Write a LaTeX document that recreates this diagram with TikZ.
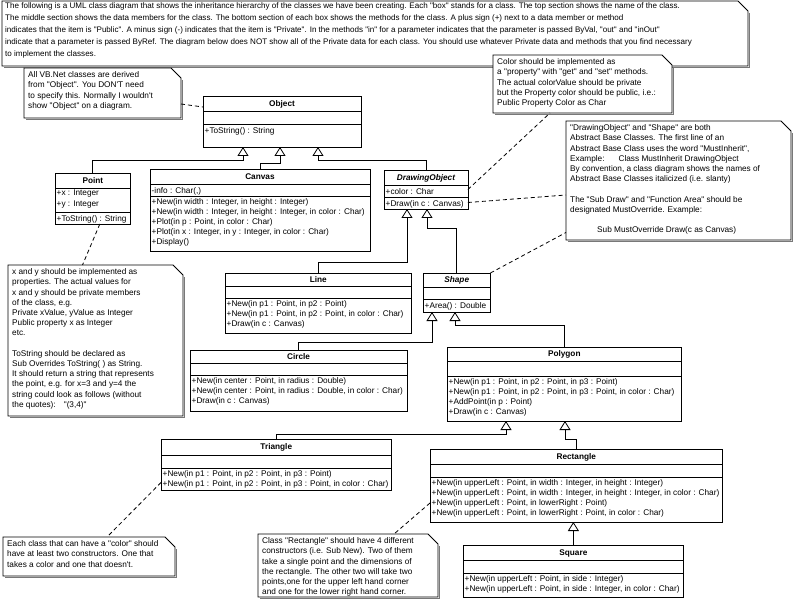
\documentclass[tikz,border=0pt]{standalone}
\usepackage{fontspec}
\newfontfamily\arialf{Liberation Sans}
\usetikzlibrary{arrows.meta}
\definecolor{shadowc}{RGB}{120,120,120}
\def\umlgeom#1,#2,#3,#4,#5,#6,#7\relax{\def\ux{#1}\def\uy{#2}\def\uw{#3}\def\uht{#4}\def\uha{#5}\def\uhm{#6}\def\upad{#7}}
\newcommand{\umlclass}[5]{%
  \umlgeom#2\relax
  \pgfmathsetmacro\uyA{\uy+\uht}%
  \pgfmathsetmacro\uyB{\uyA+\uha}%
  \pgfmathsetmacro\uyC{\uyB+\uhm}%
  \pgfmathsetmacro\uyM{\uy+\uht/2}%
  \pgfmathsetmacro\uH{\uyC-\uy}%
  \node[ctext] (#1-attr) at (\ux+1.5,\uyA+2) {#4};
  \node[ctext] (#1-meth) at (\ux+1.5,\uyB+2) {#5};
  \path (#1-attr.east); \pgfgetlastxy{\tax}{\tay}%
  \path (#1-meth.east); \pgfgetlastxy{\tmx}{\tmy}%
  \pgfmathsetmacro\uwF{max(\uw,\tax-\ux+\upad,\tmx-\ux+\upad)}%
  \pgfmathsetmacro\uxR{\ux+\uwF}%
  \pgfmathsetmacro\uxM{\ux+\uwF/2}%
  \node[classbox, minimum width=\uwF pt, minimum height=\uH pt, anchor=north west] (#1) at (\ux,\uy) {};
  \draw[sepline] (\ux,\uyA) -- (\uxR,\uyA) (\ux,\uyB) -- (\uxR,\uyB);
  \node[ctitle] (#1-title) at (\uxM,\uyM) {#3};
}
\newcommand{\umlnote}[6]{%
  \pgfmathsetmacro\nxR{#2+#4}\pgfmathsetmacro\nyB{#3+#5}%
  \pgfmathsetmacro\nxE{#2+#4-10}\pgfmathsetmacro\nyE{#3+10}%
  \draw[noteshadow] (\nxR+1.5,\nyE+2) -- (\nxR+1.5,\nyB+1.5) -- (#2+2,\nyB+1.5);
  \node[notebox, minimum width=#4pt, minimum height=#5pt, anchor=north west] (#1) at (#2,#3) {};
  \draw[noteline] (#2,#3) -- (\nxE,#3) -- (\nxR,\nyE) -- (\nxR,\nyB) -- (#2,\nyB) -- cycle;
  \node[ntext] (#1-text) at (#2+4,#3+3.5) {#6};
}
\begin{document}
\begin{tikzpicture}[x=1pt,y=-1pt,
  every node/.style={font=\arialf\fontsize{8.25}{10.2}\selectfont},
  classbox/.style={draw, line width=0.8pt, inner sep=0pt, outer sep=0pt, rectangle},
  sepline/.style={line width=0.8pt},
  ctitle/.style={inner sep=0pt, text height=5.9pt, text depth=0pt, font=\arialf\bfseries\fontsize{8.25}{10.2}\selectfont},
  ctext/.style={inner sep=0pt, align=left, anchor=north west, execute at begin node=\strut},
  notebox/.style={inner sep=0pt, outer sep=0pt, rectangle},
  noteline/.style={line width=0.8pt, fill=white},
  noteshadow/.style={line width=1.5pt, shadowc},
  ntext/.style={inner sep=0pt, align=left, anchor=north west, execute at begin node=\strut},
  gen/.style={line width=0.8pt, -{Triangle[open, length=9pt, width=11pt, line width=0.8pt]}},
  ndash/.style={line width=0.8pt, dash pattern=on 4pt off 3pt},
]
\useasboundingbox (0,0) rectangle (794,601);
\fill[white] (0,0) rectangle (794,601);

% header note
\draw[noteshadow] (749.5,13) -- (749.5,67.5) -- (4,67.5);
\node[notebox, minimum width=746pt, minimum height=65pt, anchor=north west] (header) at (2,1) {};
\draw[noteline] (2,1) -- (738,1) -- (748,11) -- (748,66) -- (2,66) -- cycle;
\node[ntext, font=\arialf\fontsize{8.05}{12}\selectfont] (header-text) at (5,2.6) {The following is a UML class diagram that shows the inheritance hierarchy of the classes we have been creating. Each "box" stands for a class. The top section shows the name of the class.\\
The middle section shows the data members for the class. The bottom section of each box shows the methods for the class. A plus sign (+) next to a data member or method\\
indicates that the item is "Public". A minus sign (-) indicates that the item is "Private". In the methods "in" for a parameter indicates that the parameter is passed ByVal, "out" and "inOut"\\
indicate that a parameter is passed ByRef. The diagram below does NOT show all of the Private data for each class. You should use whatever Private data and methods that you find necessary\\
to implement the classes.};

% notes
\umlnote{vbnote}{24}{68}{157}{50}{All VB.Net classes are derived\\from "Object". You DON'T need\\to specify this. Normally I wouldn't\\show "Object" on a diagram.}
\umlnote{colornote}{493}{55}{179}{58}{Color should be implemented as\\a "property" with "get" and "set" methods.\\The actual colorValue should be private\\but the Property color should be public, i.e.:\\Public Property Color as Char}
\umlnote{absnote}{566}{121}{225}{119}{"DrawingObject" and "Shape" are both\\Abstract Base Classes. The first line of an\\Abstract Base Class uses the word "MustInherit",\\Example:\hspace{14pt}Class MustInherit DrawingObject\\By convention, a class diagram shows the names of\\Abstract Base Classes italicized (i.e. slanty)\\\mbox{}\\The "Sub Draw" and "Function Area" should be\\designated MustOverride. Example:\\\mbox{}\\\hspace*{27pt}Sub MustOverride Draw(c as Canvas)}
\umlnote{leftnote}{8}{265}{175}{151}{x and y should be implemented as\\properties. The actual values for\\x and y should be private members\\of the class, e.g.\\Private xValue, yValue as Integer\\Public property x as Integer\\etc.\\\mbox{}\\ToString should be declared as\\Sub Overrides ToString( ) as String.\\It should return a string that represents\\the point, e.g. for x=3 and y=4 the\\string could look as follows (without\\the quotes):\hspace{5pt} "(3,4)"}
\umlnote{bnote}{3}{537}{172}{39}{Each class that can have a "color" should\\have at least two constructors. One that\\takes a color and one that doesn't.}
\umlnote{rectnote}{258}{534}{180}{63}{Class "Rectangle" should have 4 different\\constructors (i.e. Sub New). Two of them\\take a single point and the dimensions of\\the rectangle. The other two will take two\\points,one for the upper left hand corner\\and one for the lower right hand corner.}

% classes
\umlclass{Object}{203,96,158,15,13,23,4}{Object}{}{+ToString() : String}
\umlclass{Point}{55,173,0,15,24,12,4}{Point}{+x : Integer\\+y : Integer}{+ToString() : String}
\umlclass{Canvas}{150,169,0,15,12,55,5}{Canvas}{-info : Char(,)}{+New(in width : Integer, in height : Integer)\\+New(in width : Integer, in height : Integer, in color : Char)\\+Plot(in p : Point, in color : Char)\\+Plot(in x : Integer, in y : Integer, in color : Char)\\+Display()}
\umlclass{DrawingObject}{384,170,0,15,12,12,4}{\itshape DrawingObject}{+color : Char}{+Draw(in c : Canvas)}
\umlclass{Line}{225,273,0,13,12,35,8}{Line}{}{+New(in p1 : Point, in p2 : Point)\\+New(in p1 : Point, in p2 : Point, in color : Char)\\+Draw(in c : Canvas)}
\umlclass{Shape}{423,273,0,14,12,13,4}{\itshape Shape}{}{+Area() : Double}
\umlclass{Circle}{190,350,0,13,12,36,4}{Circle}{}{+New(in center : Point, in radius : Double)\\+New(in center : Point, in radius : Double, in color : Char)\\+Draw(in c : Canvas)}
\umlclass{Polygon}{447,347,0,14,15,45,7}{Polygon}{}{+New(in p1 : Point, in p2 : Point, in p3 : Point)\\+New(in p1 : Point, in p2 : Point, in p3 : Point, in color : Char)\\+AddPoint(in p : Point)\\+Draw(in c : Canvas)}
\umlclass{Triangle}{161,439,0,16,13,22,3}{Triangle}{}{+New(in p1 : Point, in p2 : Point, in p3 : Point)\\+New(in p1 : Point, in p2 : Point, in p3 : Point, in color : Char)}
\umlclass{Rectangle}{430,449,0,15,13,45,3}{Rectangle}{}{+New(in upperLeft : Point, in width : Integer, in height : Integer)\\+New(in upperLeft : Point, in width : Integer, in height : Integer, in color : Char)\\+New(in upperLeft : Point, in lowerRight : Point)\\+New(in upperLeft : Point, in lowerRight : Point, in color : Char)}
\umlclass{Square}{463,545,0,15,13,24,4}{Square}{}{+New(in upperLeft : Point, in side : Integer)\\+New(in upperLeft : Point, in side : Integer, in color : Char)}

% generalizations
\draw[gen] (Point.north) |- ([xshift=40pt,yshift=-13pt]Object.south west) -- ([xshift=40pt]Object.south west);
\draw[gen] (Canvas.north) |- ([xshift=77pt,yshift=-16pt]Object.south west) -- ([xshift=77pt]Object.south west);
\draw[gen] (DrawingObject.north) |- ([xshift=115pt,yshift=-13pt]Object.south west) -- ([xshift=115pt]Object.south west);
\draw[gen] (Line.north) |- ([xshift=23pt,yshift=-53pt]DrawingObject.south west) -- ([xshift=23pt]DrawingObject.south west);
\draw[gen] (Shape.north) |- ([xshift=43pt,yshift=-19pt]DrawingObject.south west) -- ([xshift=43pt]DrawingObject.south west);
\draw[gen] (Circle.north) |- ([xshift=9pt,yshift=-30pt]Shape.south west) -- ([xshift=9pt]Shape.south west);
\draw[gen] (Polygon.north) |- ([xshift=32pt,yshift=-13pt]Shape.south west) -- ([xshift=32pt]Shape.south west);
\draw[gen] (Triangle.north) |- ([xshift=59pt,yshift=-13pt]Polygon.south west) -- ([xshift=59pt]Polygon.south west);
\draw[gen] (Rectangle.north) |- ([xshift=118pt,yshift=-18pt]Polygon.south west) -- ([xshift=118pt]Polygon.south west);
\draw[gen] (Square.north) -- (Square.north |- Rectangle.south);

% note anchors
\draw[ndash] ([yshift=-11pt]vbnote.east) -- ([yshift=14.5pt]Object.west);
\draw[ndash] (DrawingObject.east) -- ([xshift=57pt]colornote.south west);
\draw[ndash] ([yshift=-13pt]DrawingObject.east) -- ([yshift=-14.5pt]absnote.west);
\draw[ndash] (Shape.north east) -- ([yshift=-52pt]absnote.west);
\draw[ndash] ([xshift=7pt]Point.south) -- ([xshift=-13pt]leftnote.north);
\draw[ndash] ([yshift=-18pt]Triangle.west) -- ([xshift=18pt]bnote.north);
\draw[ndash] ([yshift=-17.5pt]Rectangle.west) -- ([xshift=46pt]rectnote.north);
\end{tikzpicture}
\end{document}
